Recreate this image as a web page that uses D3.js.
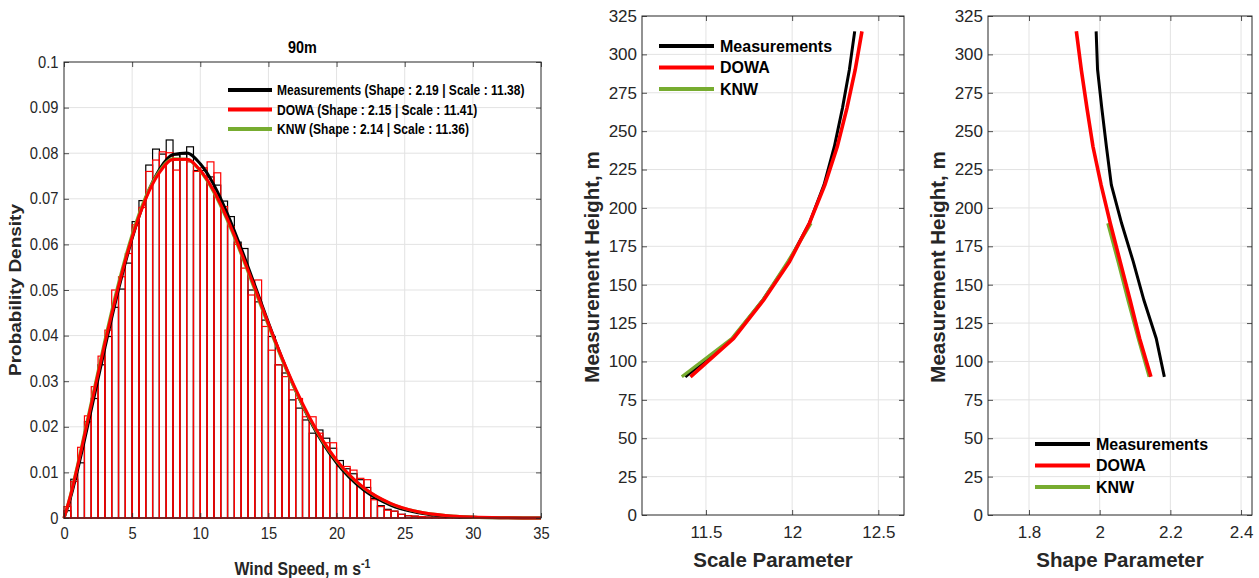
<!DOCTYPE html>
<html><head><meta charset="utf-8">
<script src="https://cdn.jsdelivr.net/npm/d3@7"></script>
<style>
body{margin:0;background:#fff;}
svg{display:block;font-family:"Liberation Sans",Arial,Helvetica,sans-serif;}
</style>
</head><body>
<svg id="c" width="1259" height="578"></svg>
<script>
// ---------------- DATA ----------------
const histTitle = "90m";
const binWidth = 0.5;
const measHist = [0.0016,0.0085,0.0121,0.0211,0.0262,0.0336,0.0398,0.0462,0.0502,0.0559,
  0.0650,0.0696,0.0774,0.0809,0.0798,0.0829,0.0796,0.0798,0.0814,0.0762,
  0.0762,0.0748,0.0730,0.0695,0.0661,0.0605,0.0591,0.0500,0.0474,0.0434,
  0.0398,0.0336,0.0318,0.0259,0.0241,0.0215,0.0186,0.0193,0.0175,0.0153,
  0.0126,0.0108,0.0097,0.0084,0.0067,0.0043,0.0027,0.0019,0.0015,0.0008,
  0.0005,0.0004,0.0003,0.0002,0.0002,0.0001,0.0001,0.0001,0.00005,0.00005];
const dowaHist = [0.0025,0.0080,0.0155,0.0224,0.0288,0.0355,0.0412,0.0500,0.0529,0.0580,
  0.0643,0.0681,0.0760,0.0785,0.0803,0.0801,0.0763,0.0785,0.0781,0.0760,
  0.0768,0.0781,0.0757,0.0683,0.0639,0.0600,0.0548,0.0489,0.0522,0.0420,
  0.0368,0.0336,0.0310,0.0281,0.0262,0.0222,0.0222,0.0186,0.0165,0.0165,
  0.0113,0.0113,0.0105,0.0087,0.0084,0.0040,0.0025,0.0017,0.0015,0.0008,
  0.0005,0.0004,0.0003,0.0002,0.0001,0.0001,0.0001,0.00005,0.00005,0.00003];

const pdfSpeeds = [0,0.5,1,2,3,4,5,6,7,8,9,10,11,12,13,14,15,16,17,18,19,20,22,24,26,28,30,32,35];
const measPdf = [0,0.00467,0.0106,0.02377,0.03731,0.05011,0.06131,0.07024,0.07644,0.0797,0.08003,0.07767,0.07305,0.06667,0.05914,0.05102,0.04284,0.03503,0.02791,0.02167,0.01639,0.01209,0.0061,0.00278,0.001146,0.000427,0.000143,0.000043,0.000002];
const dowaPdf = [0,0.00516,0.0114,0.02484,0.03832,0.05082,0.06158,0.07,0.07572,0.0786,0.07869,0.07625,0.07169,0.06552,0.05826,0.05048,0.04263,0.03513,0.02824,0.02216,0.01697,0.0127,0.00663,0.003152,0.001365,0.000539,0.000194,0.00006,0.00001];
const knwPdf  = [0,0.00535,0.01174,0.02538,0.03897,0.05149,0.06219,0.0705,0.07607,0.07877,0.07869,0.07609,0.0714,0.06514,0.05784,0.05004,0.0422,0.03473,0.0279,0.02188,0.01675,0.01253,0.00654,0.003113,0.001351,0.000534,0.000191,0.00006,0.00001];
const histLegend = ["Measurements (Shape : 2.19 | Scale : 11.38)",
                    "DOWA (Shape : 2.15 | Scale : 11.41)",
                    "KNW (Shape : 2.14 | Scale : 11.36)"];
const histXTicks = [0,5,10,15,20,25,30,35];
const histYTicks = [0,0.01,0.02,0.03,0.04,0.05,0.06,0.07,0.08,0.09,0.1];

const heights    = [90,115,140,165,190,215,240,265,290,315];
const knwHeights = [90,115,140,165,190];
const measScale = [11.38,11.655,11.83,11.98,12.10,12.185,12.245,12.292,12.332,12.363];
const dowaScale = [11.41,11.66,11.835,11.985,12.10,12.19,12.262,12.318,12.366,12.405];
const knwScale  = [11.36,11.65,11.83,11.975,12.11];
const measShape = [2.183,2.160,2.125,2.095,2.062,2.033,2.019,2.006,1.994,1.990];
const dowaShape = [2.145,2.113,2.086,2.058,2.030,2.004,1.981,1.964,1.948,1.934];
const knwShape  = [2.140,2.109,2.080,2.052,2.023];
const seriesNames = ["Measurements","DOWA","KNW"];
const heightTicks = [0,25,50,75,100,125,150,175,200,225,250,275,300,325];
const scaleTicks = [11.5,12,12.5];
const shapeTicks = [1.8,2,2.2,2.4];

// ---------------- STYLE ----------------
const COL = {meas:"#000000", dowa:"#ff0000", knw:"#77ac30"};
const AX = "#262626", GRID = "#e3e3e3";
const svg = d3.select("#c");

function frame(g, x, y, w, h){
  g.append("rect").attr("x",x).attr("y",y).attr("width",w).attr("height",h)
   .attr("fill","none").attr("stroke",AX).attr("stroke-width",1);
}
function styleAxis(sel, size, sx){
  sel.select(".domain").remove();
  sel.selectAll(".tick line").attr("stroke",AX).attr("stroke-width",0.8);
  sel.selectAll(".tick text").attr("fill",AX).attr("font-size",size)
     .attr("font-family","'Liberation Sans',Arial,sans-serif");
  if (sx) sel.selectAll(".tick text").attr("transform",`scale(${sx},1)`);
}

// ============ PANEL 1: histogram ============
{
  const L=64,R=541,T=62,B=518;
  const x = d3.scaleLinear().domain([0,35]).range([L,R]);
  const y = d3.scaleLinear().domain([0,0.1]).range([B,T]);
  const g = svg.append("g");
  g.selectAll(".gx").data(histXTicks.slice(1,-1)).join("line")
   .attr("x1",d=>x(d)).attr("x2",d=>x(d)).attr("y1",T).attr("y2",B).attr("stroke",GRID);
  g.selectAll(".gy").data(histYTicks.slice(1,-1)).join("line")
   .attr("y1",d=>y(d)).attr("y2",d=>y(d)).attr("x1",L).attr("x2",R).attr("stroke",GRID);
  const drawHist = (data,color)=>{
    g.append("g").selectAll("rect").data(data).join("rect")
     .attr("x",(d,i)=>x(i*binWidth)).attr("width",(d,i)=>x((i+1)*binWidth)-x(i*binWidth))
     .attr("y",d=>y(d)).attr("height",d=>y(0)-y(d))
     .attr("fill","none").attr("stroke",color).attr("stroke-width",1.2);
  };
  drawHist(measHist,COL.meas);
  drawHist(dowaHist,COL.dowa);
  const line = d3.line().x(d=>x(d[0])).y(d=>y(d[1])).curve(d3.curveMonotoneX);
  [[measPdf,COL.meas],[knwPdf,COL.knw],[dowaPdf,COL.dowa]].forEach(([arr,c])=>{
    g.append("path").datum(pdfSpeeds.map((s,i)=>[s,arr[i]])).attr("d",line)
     .attr("fill","none").attr("stroke",c).attr("stroke-width",3);
  });
  frame(g,L,T,R-L,B-T);
  const ax = g.append("g").attr("transform",`translate(0,${B})`)
    .call(d3.axisBottom(x).tickValues(histXTicks).tickSize(-5).tickPadding(10).tickFormat(d3.format("d")));
  styleAxis(ax,16,0.92);
  const ay = g.append("g").attr("transform",`translate(${L},0)`)
    .call(d3.axisLeft(y).tickValues(histYTicks).tickSize(-5).tickPadding(6).tickFormat(d=>d===0?"0":d3.format("")(+d.toFixed(2))));
  styleAxis(ay,16,0.92);
  g.append("g").attr("transform",`translate(0,${T})`).call(d3.axisTop(x).tickValues(histXTicks).tickSize(-5).tickFormat(""))
   .call(s=>styleAxis(s,15));
  g.append("g").attr("transform",`translate(${R},0)`).call(d3.axisRight(y).tickValues(histYTicks).tickSize(-5).tickFormat(""))
   .call(s=>styleAxis(s,15));
  g.append("text").attr("transform",`translate(${(L+R)/2},53) scale(0.9,1)`).attr("text-anchor","middle")
   .attr("font-weight","bold").attr("font-size",16).attr("fill","#000").text(histTitle);
  g.append("text").attr("transform","translate(21,290) rotate(-90) scale(1,0.88)").attr("text-anchor","middle")
   .attr("font-weight","bold").attr("font-size",19).attr("fill","#262626").text("Probability Density");
  const xl = g.append("text").attr("transform",`translate(${(L+R)/2},575) scale(0.88,1)`).attr("text-anchor","middle")
   .attr("font-weight","bold").attr("font-size",18).attr("fill","#262626");
  xl.append("tspan").text("Wind Speed, m s");
  xl.append("tspan").attr("dy",-7).attr("font-size",12).text("-1");
  const lc=[COL.meas,COL.dowa,COL.knw], ly=[90,109.5,129];
  histLegend.forEach((t,i)=>{
    g.append("line").attr("x1",228).attr("x2",272).attr("y1",ly[i]).attr("y2",ly[i]).attr("stroke",lc[i]).attr("stroke-width",4);
    g.append("text").attr("transform",`translate(277,${ly[i]+5}) scale(0.86,1)`).attr("font-weight","bold")
     .attr("font-size",14).attr("fill","#000").text(t);
  });
}

// ============ PANELS 2 & 3: profiles ============
function profile(opts){
  const {L,R,T,B,dom,ticks,xlabel,meas,dowa,knw,legX,legY,fmt} = opts;
  const x = d3.scaleLinear().domain(dom).range([L,R]);
  const y = d3.scaleLinear().domain([0,325]).range([B,T]);
  const g = svg.append("g");
  g.selectAll(".gx").data(ticks).join("line")
   .attr("x1",d=>x(d)).attr("x2",d=>x(d)).attr("y1",T).attr("y2",B).attr("stroke",GRID);
  g.selectAll(".gy").data(heightTicks.slice(1,-1)).join("line")
   .attr("y1",d=>y(d)).attr("y2",d=>y(d)).attr("x1",L).attr("x2",R).attr("stroke",GRID);
  const line = d3.line().x(d=>x(d[0])).y(d=>y(d[1]));
  [[meas,heights,COL.meas,3],[knw,knwHeights,COL.knw,3.2],[dowa,heights,COL.dowa,3.6]].forEach(([v,h,c,w])=>{
    g.append("path").datum(v.map((d,i)=>[d,h[i]])).attr("d",line)
     .attr("fill","none").attr("stroke",c).attr("stroke-width",w);
  });
  frame(g,L,T,R-L,B-T);
  const ax = g.append("g").attr("transform",`translate(0,${B})`)
    .call(d3.axisBottom(x).tickValues(ticks).tickSize(-5).tickPadding(11).tickFormat(fmt));
  styleAxis(ax,17);
  const ay = g.append("g").attr("transform",`translate(${L},0)`)
    .call(d3.axisLeft(y).tickValues(heightTicks).tickSize(-5).tickPadding(5).tickFormat(d3.format("d")));
  styleAxis(ay,17);
  g.append("g").attr("transform",`translate(0,${T})`).call(d3.axisTop(x).tickValues(ticks).tickSize(-5).tickFormat(""))
   .call(s=>styleAxis(s,15));
  g.append("g").attr("transform",`translate(${R},0)`).call(d3.axisRight(y).tickValues(heightTicks).tickSize(-5).tickFormat(""))
   .call(s=>styleAxis(s,15));
  g.append("text").attr("x",(L+R)/2).attr("y",567).attr("text-anchor","middle")
   .attr("font-weight","bold").attr("font-size",20.5).attr("fill","#262626").text(xlabel);
  g.append("text").attr("transform",`translate(${L-43},267) rotate(-90)`).attr("text-anchor","middle")
   .attr("font-weight","bold").attr("font-size",20.5).attr("fill","#262626").text("Measurement Height, m");
  const lc=[COL.meas,COL.dowa,COL.knw];
  seriesNames.forEach((t,i)=>{
    const yy = legY + i*21.5;
    g.append("line").attr("x1",legX).attr("x2",legX+55).attr("y1",yy).attr("y2",yy).attr("stroke",lc[i]).attr("stroke-width",4);
    g.append("text").attr("x",legX+61).attr("y",yy+5.5).attr("font-weight","bold").attr("font-size",16)
     .attr("fill","#000").text(t);
  });
}
profile({L:642,R:904,T:16,B:515,dom:[11.129,12.649],ticks:scaleTicks,xlabel:"Scale Parameter",
  meas:measScale,dowa:dowaScale,knw:knwScale,legX:659,legY:46,fmt:d3.format("")});
profile({L:988,R:1252,T:16,B:515,dom:[1.684,2.431],ticks:shapeTicks,xlabel:"Shape Parameter",
  meas:measShape,dowa:dowaShape,knw:knwShape,legX:1035,legY:444,fmt:d3.format("")});
</script>
</body></html>
